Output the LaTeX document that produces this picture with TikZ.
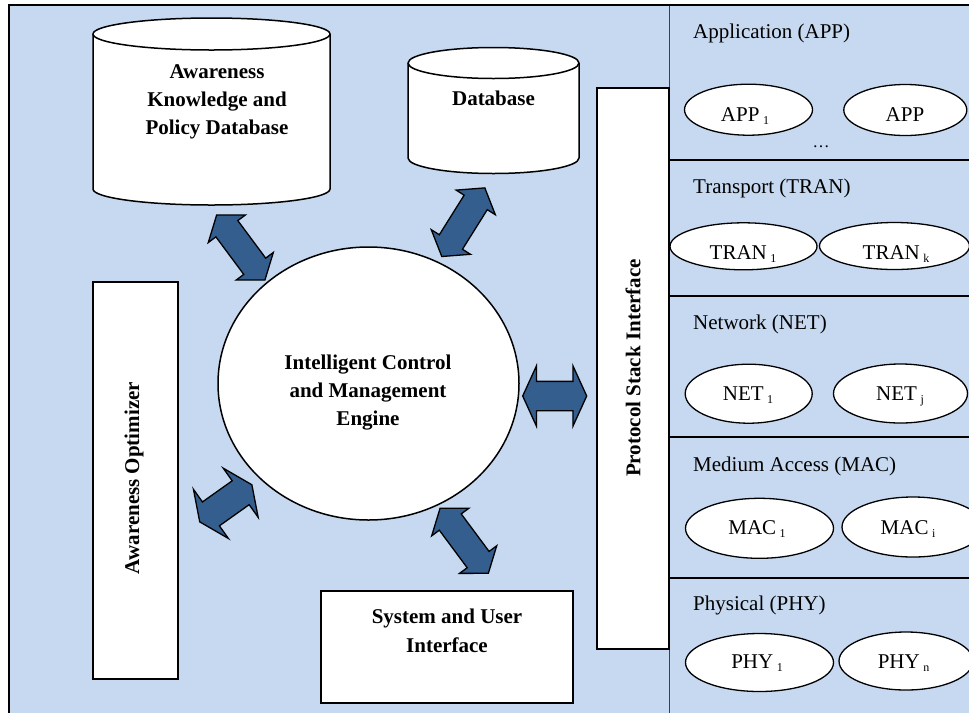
\documentclass[tikz,border=0pt]{standalone}
\usepackage{fontspec}
\setmainfont{Liberation Serif}
\usetikzlibrary{shapes.geometric,shapes.arrows}
\definecolor{bgblue}{RGB}{198,217,240}
\definecolor{arrblue}{RGB}{52,94,142}
\newcommand{\subidx}[1]{\,\raisebox{-3pt}[0pt][0pt]{\fontsize{12}{12}\selectfont #1}}
\begin{document}
\begin{tikzpicture}[x=1pt,y=-1pt,
  every node/.style={font=\fontsize{21}{27}\selectfont, inner sep=0pt},
  boxw/.style={draw, rectangle, line width=1.5pt, fill=white},
  cyl/.style={draw, line width=1.5pt, fill=white},
  bold/.style={font=\fontsize{21}{28}\selectfont\bfseries, align=center},
  lay/.style={draw, ellipse, line width=1.3pt, fill=white},
  ttl/.style={anchor=base west},
  dblA/.style={double arrow, draw=black, line width=1.3pt, fill=arrblue,
    inner xsep=0pt, inner ysep=13pt,
    minimum height=81pt, minimum width=45pt,
    double arrow head extend=9.5pt, double arrow tip angle=107},
  dblB/.style={double arrow, draw=black, line width=1.3pt, fill=arrblue,
    inner xsep=0pt, inner ysep=14pt,
    minimum height=64pt, minimum width=59pt,
    double arrow head extend=15.5pt, double arrow tip angle=131},
]
\useasboundingbox (0,0) rectangle (969,713);
% background and frame
\fill[bgblue] (9,5) rectangle (969,713);
\draw[line width=1pt, black!75] (669,5) -- (669,713);
\foreach \yy in {160,296,437,578} \draw[line width=1.5pt] (669,\yy) -- (969,\yy);
\draw[line width=2.5pt] (9,713) -- (9,5) -- (969,5);

% Knowledge base cylinder
\draw[cyl] (93,34) -- (93,189) arc[start angle=180, end angle=360, x radius=118.5pt, y radius=16pt]
  -- (330,34) arc[start angle=0, end angle=180, x radius=118.5pt, y radius=16pt] -- cycle;
\draw[line width=1.5pt] (93,34) arc[start angle=180, end angle=360, x radius=118.5pt, y radius=16pt];
\node[bold] (kb) at (217,102) {Awareness\\Knowledge and\\Policy Database};

% Database cylinder
\draw[cyl] (408,63) -- (408,158) arc[start angle=180, end angle=360, x radius=85.5pt, y radius=15.5pt]
  -- (579,63) arc[start angle=0, end angle=180, x radius=85.5pt, y radius=15.5pt] -- cycle;
\draw[line width=1.5pt] (408,63) arc[start angle=180, end angle=360, x radius=85.5pt, y radius=15.5pt];
\node[bold] (db) at (493.5,98) {Database};

% central engine
\node[draw, ellipse, line width=1.5pt, fill=white, minimum width=301pt, minimum height=273pt] (icm) at (368.5,383.5) {};
\node[bold] (icmtxt) at (368,393) {Intelligent Control\\and Management\\Engine};

% Awareness optimizer
\node[boxw, minimum width=85pt, minimum height=397pt] (ao) at (135.5,480.5) {};
\node[bold, rotate=90] (aotxt) at (134,478) {Awareness Optimizer};

% Protocol stack interface
\node[boxw, minimum width=72pt, minimum height=561pt] (psi) at (633,368.5) {};
\node[bold, rotate=90] (psitxt) at (633,368) {Protocol Stack Interface};

% System and user interface
\node[boxw, minimum width=252pt, minimum height=112pt] (sui) at (447,647) {};
\node[bold, font=\fontsize{21}{29}\selectfont\bfseries] (suitxt) at (447,631) {System and User\\Interface};

% double arrows
\node[dblA, rotate=-53.4] (akb) at (240.8,247.5) {};
\node[dblA, rotate=57.9] (adb) at (463.3,222.2) {};
\node[dblA, rotate=-53.4] (asui) at (464.2,540.8) {};
\node[dblB] (apsi) at (554.7,396) {};
\node[dblB, rotate=35.4] (aao) at (225.8,503.3) {};

% protocol layers
\node[ttl] (tapp) at (693,38) {Application (APP)};
\node[ttl] (ttran) at (693,193) {Transport (TRAN)};
\node[ttl] (tnet) at (693,329) {Network (NET)};
\node[ttl] (tmac) at (693,471) {Medium Access (MAC)};
\node[ttl] (tphy) at (693,610) {Physical (PHY)};

\node[lay, minimum width=128pt, minimum height=51pt] (app1) at (748.5,109.7) {};
\node (app1t) at (745,115) {APP\subidx{1}};
\node[lay, minimum width=123pt, minimum height=51pt] (app2) at (905.3,110) {};
\node (app2t) at (905,115) {APP};
\node[anchor=base, font=\fontsize{17}{17}\selectfont] (dots) at (821,147) {…};

\node[lay, minimum width=147pt, minimum height=47pt] (tran1) at (743.5,246.3) {};
\node (tran1t) at (743,253) {TRAN\subidx{1}};
\node[lay, minimum width=150pt, minimum height=47pt] (trank) at (894.5,246) {};
\node (trankt) at (896,253) {TRAN\subidx{k}};

\node[lay, minimum width=127pt, minimum height=59pt] (net1) at (748.7,393.7) {};
\node (net1t) at (748,394) {NET\subidx{1}};
\node[lay, minimum width=134pt, minimum height=59pt] (netj) at (900.5,393.5) {};
\node (netjt) at (900,394) {NET\subidx{j}};

\node[lay, minimum width=148pt, minimum height=60pt] (mac1) at (759.5,528.3) {};
\node (mac1t) at (757,528) {MAC\subidx{1}};
\node[lay, minimum width=142pt, minimum height=60pt] (maci) at (913,527) {};
\node (macit) at (908,528) {MAC\subidx{i}};

\node[lay, minimum width=148pt, minimum height=58pt] (phy1) at (759.5,662.5) {};
\node (phy1t) at (757,662) {PHY\subidx{1}};
\node[lay, minimum width=134pt, minimum height=58pt] (phyn) at (906,661) {};
\node (phynt) at (903.5,662) {PHY\subidx{n}};
\end{tikzpicture}
\end{document}
